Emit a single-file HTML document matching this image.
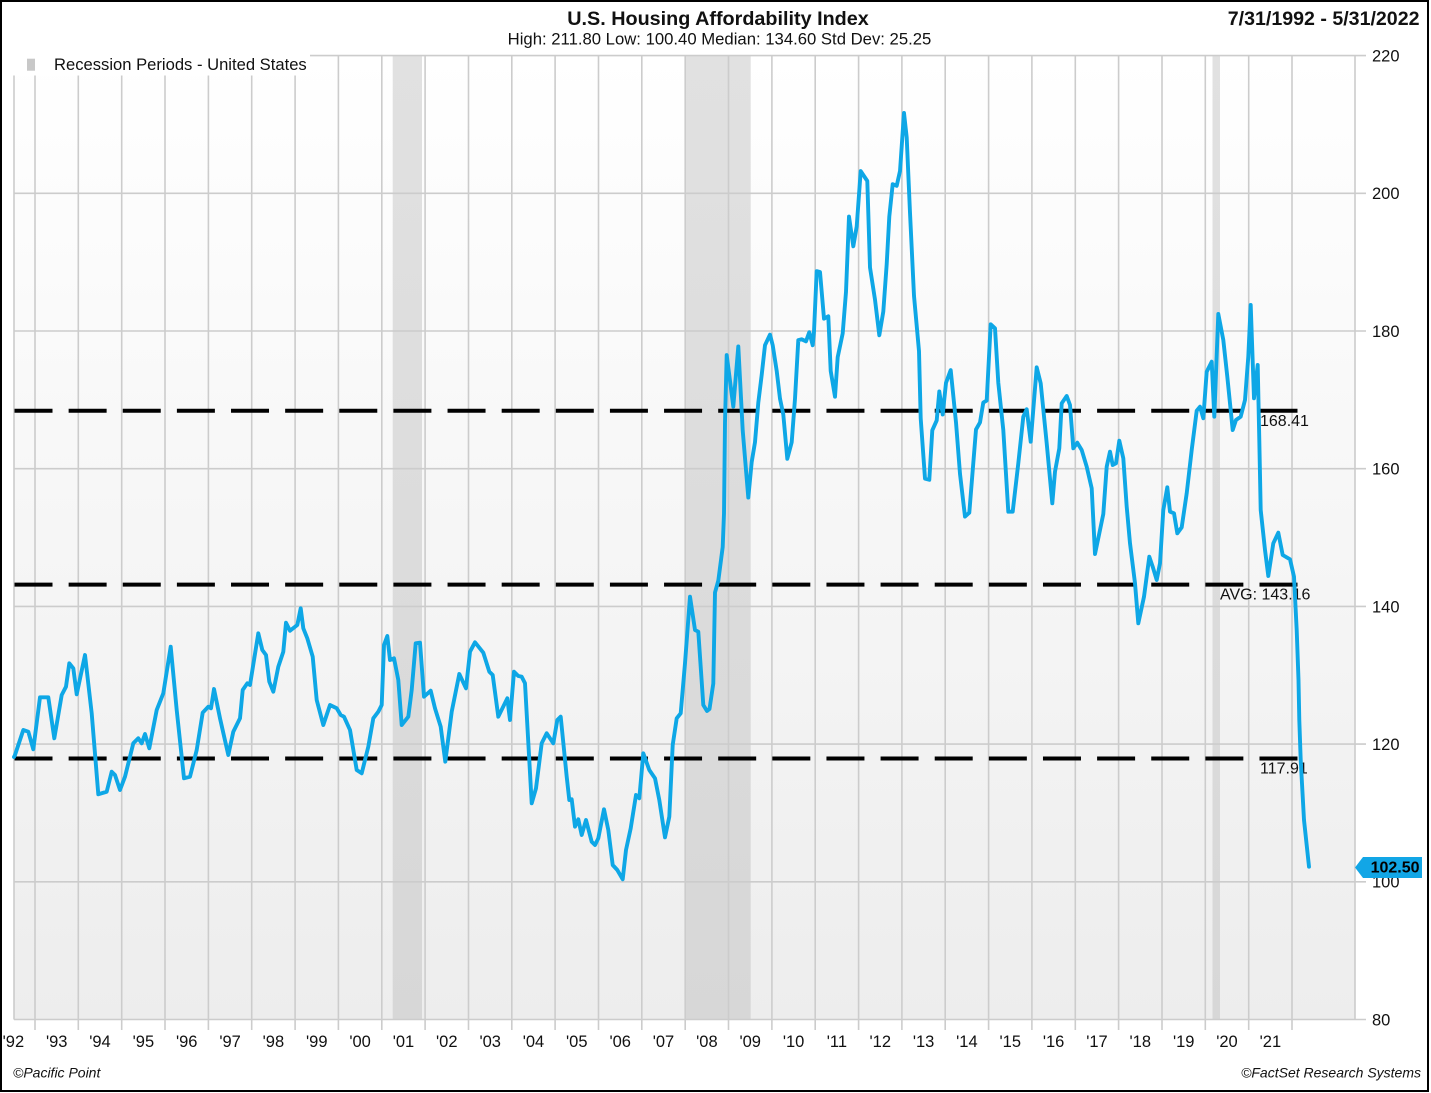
<!DOCTYPE html>
<html>
<head>
<meta charset="utf-8">
<style>
  html,body{margin:0;padding:0;background:#fff;}
  body{width:1431px;height:1093px;overflow:hidden;}
  svg{display:block;font-family:"Liberation Sans",Arial,sans-serif;}
</style>
</head>
<body>
<svg width="1431" height="1093" viewBox="0 0 1431 1093" xmlns="http://www.w3.org/2000/svg">
  <defs>
    <linearGradient id="bg" x1="0" y1="0" x2="0" y2="1">
      <stop offset="0" stop-color="#ffffff"/>
      <stop offset="1" stop-color="#ededed"/>
    </linearGradient>
    <linearGradient id="rs" x1="0" y1="0" x2="0" y2="1">
      <stop offset="0" stop-color="#e1e1e1"/>
      <stop offset="1" stop-color="#d7d7d7"/>
    </linearGradient>
  </defs>

  <rect x="0" y="0" width="1431" height="1093" fill="#fff"/>
  <rect x="14" y="55.6" width="1341" height="963.9" fill="url(#bg)"/>

  <rect x="392.7" y="55.6" width="29.3" height="963.9" fill="url(#rs)"/>
  <rect x="685" y="55.6" width="65.7" height="963.9" fill="url(#rs)"/>
  <rect x="1212.5" y="55.6" width="7.5" height="963.9" fill="url(#rs)"/>

  <g stroke="#cccccc" stroke-width="1.6" fill="none">
    <line x1="14" y1="55.6" x2="1366" y2="55.6"/>
    <line x1="14" y1="193.3" x2="1366" y2="193.3"/>
    <line x1="14" y1="331" x2="1366" y2="331"/>
    <line x1="14" y1="468.7" x2="1366" y2="468.7"/>
    <line x1="14" y1="606.4" x2="1366" y2="606.4"/>
    <line x1="14" y1="744.1" x2="1366" y2="744.1"/>
    <line x1="14" y1="881.8" x2="1366" y2="881.8"/>
    <line x1="14" y1="1019.5" x2="1366" y2="1019.5"/>
    <line x1="14" y1="55.6" x2="14" y2="1019.5"/>
    <line x1="1355" y1="55.6" x2="1355" y2="1019.5"/>
    <line x1="35" y1="55.6" x2="35" y2="1030"/>
    <line x1="78.3" y1="55.6" x2="78.3" y2="1030"/>
    <line x1="121.7" y1="55.6" x2="121.7" y2="1030"/>
    <line x1="165" y1="55.6" x2="165" y2="1030"/>
    <line x1="208.4" y1="55.6" x2="208.4" y2="1030"/>
    <line x1="251.7" y1="55.6" x2="251.7" y2="1030"/>
    <line x1="295.1" y1="55.6" x2="295.1" y2="1030"/>
    <line x1="338.4" y1="55.6" x2="338.4" y2="1030"/>
    <line x1="381.8" y1="55.6" x2="381.8" y2="1030"/>
    <line x1="425.1" y1="55.6" x2="425.1" y2="1030"/>
    <line x1="468.5" y1="55.6" x2="468.5" y2="1030"/>
    <line x1="511.8" y1="55.6" x2="511.8" y2="1030"/>
    <line x1="555.1" y1="55.6" x2="555.1" y2="1030"/>
    <line x1="598.5" y1="55.6" x2="598.5" y2="1030"/>
    <line x1="641.8" y1="55.6" x2="641.8" y2="1030"/>
    <line x1="685.2" y1="55.6" x2="685.2" y2="1030"/>
    <line x1="728.5" y1="55.6" x2="728.5" y2="1030"/>
    <line x1="771.9" y1="55.6" x2="771.9" y2="1030"/>
    <line x1="815.2" y1="55.6" x2="815.2" y2="1030"/>
    <line x1="858.6" y1="55.6" x2="858.6" y2="1030"/>
    <line x1="901.9" y1="55.6" x2="901.9" y2="1030"/>
    <line x1="945.2" y1="55.6" x2="945.2" y2="1030"/>
    <line x1="988.6" y1="55.6" x2="988.6" y2="1030"/>
    <line x1="1031.9" y1="55.6" x2="1031.9" y2="1030"/>
    <line x1="1075.3" y1="55.6" x2="1075.3" y2="1030"/>
    <line x1="1118.6" y1="55.6" x2="1118.6" y2="1030"/>
    <line x1="1162" y1="55.6" x2="1162" y2="1030"/>
    <line x1="1205.3" y1="55.6" x2="1205.3" y2="1030"/>
    <line x1="1248.7" y1="55.6" x2="1248.7" y2="1030"/>
    <line x1="1292" y1="55.6" x2="1292" y2="1030"/>
  </g>

  <g stroke="#000" stroke-width="4" stroke-dasharray="38 16.13" fill="none">
    <line x1="14.5" y1="410.8" x2="1299" y2="410.8"/>
    <line x1="14.5" y1="584.6" x2="1299" y2="584.6"/>
    <line x1="14.5" y1="758.5" x2="1299" y2="758.5"/>
  </g>

  <g font-size="16" fill="#111">
    <text x="1260" y="426">168.41</text>
    <text x="1220" y="599.5">AVG: 143.16</text>
    <text x="1260" y="773.5">117.91</text>
  </g>

  <polyline fill="none" stroke="#0ea7e6" stroke-width="3.9" stroke-linejoin="round" stroke-linecap="round" points="
14,757 15,755 23.3,730 28.3,731.7 33.3,749.3 40,697.3 48.3,697.3 54.3,738.3 61.7,695 66,686.7 69.3,663.3 73.3,668.3 76.7,694.3 85,655 91.7,713.3 98.3,794.3 106.7,791.7 111.7,771.7 115,775 120,790 125,776.7 133.3,743.3 138.3,738.3 141.7,743.3 145,734 149.3,748.3 156.7,710 163.3,693.3 170.7,646.7 176.7,710 184,778.3 190,776.7 196.7,750 202.7,712.7 208.3,706.7 211,708.3 214,689 220,718.3 228.3,755 233.3,731.7 240,718.3 242.7,690 247.3,683.3 250,685 258.3,633.3 262.3,650 266,655 269.3,681.7 273.3,691.7 278.3,666.7 283.3,651.7 286,622.7 290,630.7 297.3,625 300.7,608.3 303.3,628.3 307.3,638.3 312.7,656.7 316.7,700 323.3,725 330,705 336.7,708.3 340.7,715 344,716.7 350,730 356.7,770 361.7,773.3 368.3,746.7 373.3,718.3 378.3,711.7 381.7,705 384,645 387.3,636 390,660 394,658.3 398.3,680 401.7,725 408.3,716.7 411.7,690 415.7,643.3 420,642.7 424,696.7 430.7,690.7 435,708.3 440.7,726.7 445.3,761.7 451.7,711.7 459.3,674 466,688.3 470,651.7 475,642.3 483.3,652.7 489.3,671.7 492.7,675 498.3,716.7 507.3,698.3 510,720 514,671.7 518.3,676 521.7,676.7 525,683.3 531.7,803.3 536,788.3 541.7,743.3 546.7,733.3 553.3,743.3 557.3,720 560.7,716.7 566.7,776.7 569.3,800 571.7,799.3 575,826.7 578.3,819.3 581.7,835 586,820 591.7,841.7 595,845 598.3,838.3 604,809.3 608.3,830 612.7,865 617.3,870 622.7,879.3 626,850 630.7,828.3 636,795 639.3,798.3 643.3,753.3 649.3,770 655,778.3 659.3,800 665,837.3 669.3,816.7 672.7,745 676.7,718.3 680.7,713.3 685,663.3 690,596.7 695,630 698.3,631.7 703.3,705 707,711 709.5,709 713.3,683.5 715,592.5 718.3,580.7 722.7,547 724,513.4 725,422.4 726.7,355.1 733.3,406.6 738.3,346.4 742.7,430.3 748.3,497.6 751.7,462 755,442.2 758.3,402.6 761.7,374.9 765,345.2 770,334.6 772.7,345.2 776.7,370.9 780,398.7 783.3,414.5 787.3,458.8 791.7,442.2 795,398.7 798.3,340.1 801.7,339.3 806,341.3 809.3,332.2 812.7,345.2 814,331.4 816.7,271.2 820,272 824,318.7 828.3,316.3 830.7,370.9 835,396.7 837.7,357.1 842.7,333.4 846,291.8 849,216.6 853.3,246.3 856.7,226.5 860.7,171.1 867.3,181 870,267.5 875,299.7 879.3,335.3 883.3,311.6 886.7,264.1 889.3,216.6 892.7,184.2 896.7,185.8 900,171.1 904,113 906.7,137.5 910,212.7 914,295.8 919,351.2 920.7,418.4 925,478.6 929.3,479.8 932.3,430.3 936.7,420.4 939.3,391.5 942.7,414.5 946,382.8 950.7,370.1 956,422.4 960,473.9 965,516.6 969.3,512.7 976,429.5 980,422.4 983.3,402.6 986.7,400.6 990.7,324.3 995,328.3 998.3,382.8 1003.3,430 1008.3,511.7 1012.7,511.7 1018.3,463.3 1023.3,416.7 1026.7,409.3 1030.7,441.7 1036.7,367.3 1040.7,383.3 1046.7,443.3 1052.3,503.3 1055,471.7 1059.3,448.3 1061.7,403.3 1066.7,396 1070,405 1073.3,448.3 1077.3,442.7 1081.7,450 1086.7,466.7 1091.7,488.3 1095,554 1100,530 1103.3,514 1106.7,466.7 1110,451.7 1112.7,465 1116,463.3 1119.3,440.7 1123.3,458.3 1126.7,506.7 1130,543.3 1135,583.3 1138.3,623.3 1144,596.7 1149.3,556.7 1152.7,566.7 1156.7,580 1160,563.3 1163.3,510 1167.3,487.3 1170,511.7 1174,513.3 1177.3,533.3 1181.7,527.3 1186.7,493.3 1191.7,450 1196.7,410.7 1200,406.7 1203.3,418.3 1206.7,371.7 1211.7,361.7 1214.3,416.7 1218.3,314 1223.3,340 1227.3,376.7 1232.7,430 1236,420 1240.7,416.7 1245,400 1248.3,356.7 1250.7,305 1254,398.3 1257.7,365 1259.3,440 1260.7,510 1265,550 1268.3,576 1273.3,543.3 1278.3,532.7 1282.7,555 1290,559.3 1294,576.7 1296.7,630 1298.5,680 1299.3,720 1300.7,760 1304,820 1309,866.7"/>

  <g font-size="16.5" fill="#111">
    <text x="1372" y="61.5">220</text>
    <text x="1372" y="199.2">200</text>
    <text x="1372" y="336.9">180</text>
    <text x="1372" y="474.6">160</text>
    <text x="1372" y="612.3">140</text>
    <text x="1372" y="750">120</text>
    <text x="1372" y="887.7">100</text>
    <text x="1372" y="1025.4">80</text>
  </g>

  <polygon points="1355,867.5 1363,857 1422,857 1422,878 1363,878" fill="#12a6e6"/>
  <text x="1419.5" y="872.5" font-size="16" font-weight="bold" fill="#000" text-anchor="end">102.50</text>

  <g font-size="16.5" fill="#111" text-anchor="middle">
    <text x="13.4" y="1047">'92</text>
    <text x="56.7" y="1047">'93</text>
    <text x="100" y="1047">'94</text>
    <text x="143.4" y="1047">'95</text>
    <text x="186.7" y="1047">'96</text>
    <text x="230.1" y="1047">'97</text>
    <text x="273.4" y="1047">'98</text>
    <text x="316.8" y="1047">'99</text>
    <text x="360.1" y="1047">'00</text>
    <text x="403.5" y="1047">'01</text>
    <text x="446.8" y="1047">'02</text>
    <text x="490.2" y="1047">'03</text>
    <text x="533.5" y="1047">'04</text>
    <text x="576.8" y="1047">'05</text>
    <text x="620.2" y="1047">'06</text>
    <text x="663.5" y="1047">'07</text>
    <text x="706.9" y="1047">'08</text>
    <text x="750.2" y="1047">'09</text>
    <text x="793.6" y="1047">'10</text>
    <text x="836.9" y="1047">'11</text>
    <text x="880.3" y="1047">'12</text>
    <text x="923.6" y="1047">'13</text>
    <text x="966.9" y="1047">'14</text>
    <text x="1010.3" y="1047">'15</text>
    <text x="1053.6" y="1047">'16</text>
    <text x="1097" y="1047">'17</text>
    <text x="1140.3" y="1047">'18</text>
    <text x="1183.7" y="1047">'19</text>
    <text x="1227" y="1047">'20</text>
    <text x="1270.4" y="1047">'21</text>
  </g>

  <rect x="13" y="54" width="297" height="21.5" fill="#fff"/>
  <rect x="27" y="58.7" width="8" height="12" fill="#c8c8c8"/>
  <text x="54" y="70" font-size="16.6" fill="#111">Recession Periods - United States</text>

  <text x="718" y="25" font-size="19.8" font-weight="bold" fill="#111" text-anchor="middle">U.S. Housing Affordability Index</text>
  <text x="719.5" y="44.5" font-size="16.7" fill="#111" text-anchor="middle">High: 211.80 Low: 100.40 Median: 134.60 Std Dev: 25.25</text>
  <text x="1419.5" y="25" font-size="19.6" font-weight="bold" fill="#111" text-anchor="end">7/31/1992 - 5/31/2022</text>

  <text x="13" y="1077.5" font-size="14" font-style="italic" fill="#111">©Pacific Point</text>
  <text x="1421" y="1077.5" font-size="14" font-style="italic" fill="#111" text-anchor="end">©FactSet Research Systems</text>

  <rect x="1" y="1" width="1427" height="1090" fill="none" stroke="#000" stroke-width="2"/>
</svg>
</body>
</html>
